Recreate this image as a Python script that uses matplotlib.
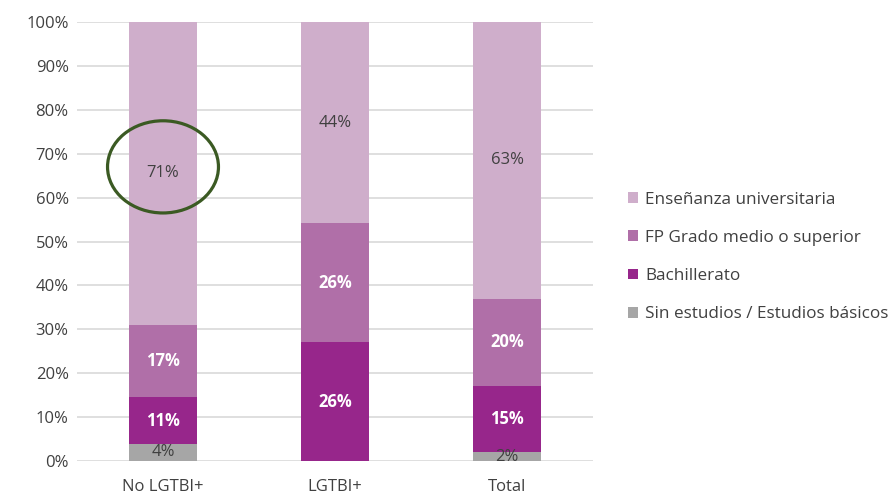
import numpy as np
import matplotlib
matplotlib.use("Agg")
import matplotlib.pyplot as plt
from matplotlib.patches import Ellipse

plt.rcParams["font.family"] = ["Open Sans", "DejaVu Sans"]

categories = ["No LGTBI+", "LGTBI+", "Total"]
series_names = ["Sin estudios / Estudios básicos", "Bachillerato",
                "FP Grado medio o superior", "Enseñanza universitaria"]
# raw percentages as labelled; the chart is a 100% stacked column (normalised per bar)
sin_estudios = [4, 0, 2]
bachillerato = [11, 26, 15]
fp = [17, 26, 20]
universitaria = [71, 44, 63]

colors = ["#A6A6A6", "#97268B", "#B06FA8", "#CFAECB"]
label_colors = ["#404040", "white", "white", "#404040"]
label_weights = ["normal", "bold", "bold", "normal"]

series = np.array([sin_estudios, bachillerato, fp, universitaria], dtype=float)
share = series / series.sum(axis=0)

fig = plt.figure(figsize=(8.94, 4.96), dpi=100)
ax = fig.add_axes([77 / 894, 1 - 461 / 496, (593 - 77) / 894, (461 - 22) / 496])

x = np.arange(len(categories))
bottom = np.zeros(len(categories))
handles = []
for i, name in enumerate(series_names):
    bars = ax.bar(x, share[i], 0.4, bottom=bottom, color=colors[i], label=name, zorder=2)
    handles.append(bars)
    for j in range(len(categories)):
        if series[i, j] > 0:
            ax.text(x[j], bottom[j] + share[i, j] / 2, f"{int(series[i, j])}%",
                    ha="center", va="center", fontsize=12, color=label_colors[i],
                    fontweight=label_weights[i], zorder=3)
    bottom += share[i]

ax.set_ylim(0, 1)
ax.set_xlim(-0.5, 2.5)
ax.set_yticks(np.arange(0, 1.01, 0.1))
ax.set_yticklabels([f"{int(round(v * 100))}%" for v in np.arange(0, 1.01, 0.1)])
ax.yaxis.grid(True, color="#D9D9D9", linewidth=1.2, zorder=0)
ax.set_axisbelow(True)
ax.set_xticks(x)
ax.set_xticklabels(categories)
ax.tick_params(axis="both", length=0, labelsize=12, colors="#404040")
ax.tick_params(axis="x", pad=13)
ax.tick_params(axis="y", pad=6)
for s in ax.spines.values():
    s.set_visible(False)

# highlight circle around the 71% label
ax.add_patch(Ellipse((0.0, 0.67), 0.645, 0.21, fill=False, edgecolor="#3B5A23",
                     linewidth=2.3, zorder=4, clip_on=False))

leg = fig.legend(handles[::-1], series_names[::-1], loc="upper left",
                 bbox_to_anchor=(619 / 894, 1 - 183 / 496), frameon=False,
                 fontsize=12.3, handlelength=0.6, handleheight=0.6,
                 handletextpad=0.45, labelspacing=1.3, borderpad=0)
for t in leg.get_texts():
    t.set_color("#404040")

fig.savefig("out.png", dpi=100)
